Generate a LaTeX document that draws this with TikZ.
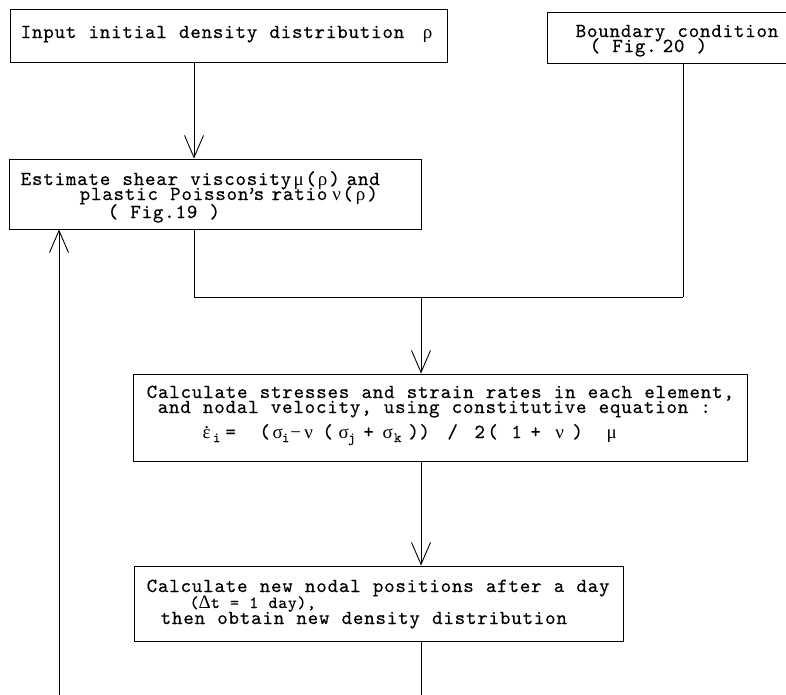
\documentclass[tikz,border=0pt]{standalone}
\usepackage{fontspec}
\newfontfamily\monof{lmmono10-regular.otf}[LetterSpace=4,WordSpace=1.076,FakeBold=0.3]
\newfontfamily\grk{Liberation Serif}
\usetikzlibrary{arrows.meta}
\newcommand\lat[2]{\makebox[0pt][l]{\hspace*{#1pt}#2}}
\newcommand\cat[2]{\makebox[0pt][l]{\hspace*{#1pt}\makebox[0pt][c]{#2}}}
\newcommand\gk[1]{{\grk\fontsize{19}{19}\selectfont #1}}
\newcommand\subs[1]{\raisebox{-4pt}{\fontsize{14}{14}\selectfont #1}}
\begin{document}
\begin{tikzpicture}[x=1pt,y=-1pt,
  box/.style={draw=black, line width=0.9pt, rectangle, inner sep=0pt},
  txt/.style={inner sep=0pt, anchor=base west, font=\monof\fontsize{20}{20}\selectfont},
  smalltxt/.style={inner sep=0pt, anchor=base west, font=\monof\fontsize{17}{17}\selectfont},
  conn/.style={draw=black, line width=0.9pt},
  arr/.style={conn, -{Straight Barb[length=22pt, width=19pt, line width=0.9pt]}}]
\fill[white] (0,0) rectangle (786,694);
\clip (0,0) rectangle (786,694);

% boxes
\node[box, minimum width=437pt, minimum height=53pt] (b1) at (228.5,35.5) {};
\node[box, minimum width=263pt, minimum height=51pt] (b2) at (678.5,37.5) {};
\node[box, minimum width=412pt, minimum height=70pt] (b3) at (215,194) {};
\node[box, minimum width=614pt, minimum height=87pt] (b4) at (440,417.5) {};
\node[box, minimum width=489pt, minimum height=75pt] (b5) at (378.5,603.5) {};

% texts
\node[txt] (t1) at (0,38) {\lat{20}{Input initial density distribution}\cat{427}{\gk{ρ}}};
\node[txt] (t2a) at (0,37) {\lat{575}{Boundary condition}};
\node[txt] (t2b) at (0,52) {\lat{589}{( Fig.}\lat{662}{20 )}};
\node[txt] (t3a) at (0,185) {\lat{20}{Estimate shear viscosity}\cat{298}{\gk{μ}}\cat{310}{(}\cat{322}{\gk{ρ}}\cat{334}{)}\lat{346}{and}};
\node[txt] (t3b) at (0,200) {\lat{79}{plastic Poisson}\cat{251}{’}\lat{253}{s}\lat{271}{ratio}\cat{336}{\gk{ν}}\cat{347}{(}\cat{360}{\gk{ρ}}\cat{372}{)}};
\node[txt] (t3c) at (0,218) {\lat{107}{( Fig.19 )}};
\node[txt] (t4a) at (0,398) {\lat{146}{Calculate stresses and strain rates in each element,}};
\node[txt] (t4b) at (0,413) {\lat{157}{and nodal velocity, using constitutive equation :}};
\node[txt] (t4c) at (0,438) {\cat{206}{\gk{ε}}\cat{206}{\raisebox{9.5pt}{\gk{.}}}\cat{216}{\subs{i}}\cat{230}{=}\cat{264}{(}\cat{277}{\gk{σ}}\cat{285}{\subs{i}}\cat{295}{\gk{−}}\cat{308}{\gk{ν}}\cat{327}{(}\cat{343}{\gk{σ}}\cat{351}{\subs{j}}\cat{368}{+}\cat{387}{\gk{σ}}\cat{397}{\subs{k}}\cat{413}{)}\cat{424}{)}\cat{452}{/}\cat{479}{2}\cat{492}{(}\cat{516}{1}\cat{535}{+}\cat{559}{\gk{ν}}\cat{577}{)}\cat{611}{\gk{μ}}};
\node[txt] (t5a) at (0,592) {\lat{146}{Calculate new nodal positions after a day}};
\node[smalltxt] (t5b) at (0,608) {\lat{189}{(\gk{Δ}t = 1 day),}};
\node[txt] (t5c) at (0,624) {\lat{160}{then obtain new density distribution}};

% coordinates
\coordinate (xA) at (194,0);
\coordinate (xB) at (683,0);
\coordinate (xC) at (421,0);
\coordinate (xL) at (59,0);
\coordinate (j) at (683,297);
\coordinate (botR) at (421,700);
\coordinate (botL) at (59,700);

% connectors
\draw[arr] (b1.south -| xA) -- (b3.north -| xA);
\draw[conn] (b2.south -| xB) -- (j);
\draw[conn] (b3.south -| xA) |- (j);
\draw[arr] (j -| xC) -- (b4.north -| xC);
\draw[arr] (b4.south -| xC) -- (b5.north -| xC);
\draw[conn] (b5.south -| xC) -- (botR);
\draw[arr] (botL) -- (b3.south -| xL);
\end{tikzpicture}
\end{document}
